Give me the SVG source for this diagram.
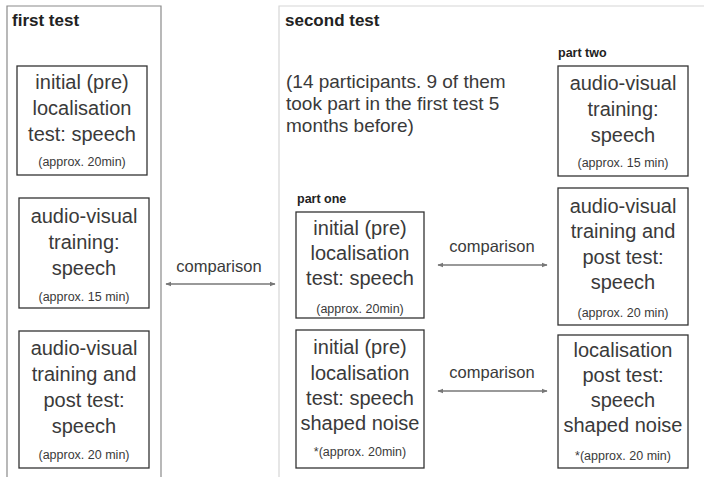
<svg xmlns="http://www.w3.org/2000/svg" width="704" height="477" viewBox="0 0 704 477">
<style>
  text { font-family: "Liberation Sans", Arial, sans-serif; fill: #3a3a3a; }
  .big { font-size: 20px; text-anchor: middle; }
  .small { font-size: 12.5px; text-anchor: middle; }
  .para { font-size: 19px; }
  .title { font-size: 17px; font-weight: bold; fill: #222; }
  .part { font-size: 12.5px; font-weight: bold; fill: #222; }
  .cmp { font-size: 16.5px; text-anchor: middle; }
  .box { fill: #fff; stroke: #333; stroke-width: 1.3; }
  .conn { stroke: #777; stroke-width: 1.3; fill: none; marker-start: url(#ah); marker-end: url(#ah); }
</style>
<defs>
  <marker id="ah" viewBox="0 0 10 10" refX="9" refY="5" markerWidth="6" markerHeight="6" orient="auto-start-reverse" markerUnits="userSpaceOnUse">
    <path d="M0,1 L10,5 L0,9 z" fill="#777"/>
  </marker>
</defs>
<rect width="704" height="477" fill="#fff"/>

<g id="frame-first">
  <path d="M7,480 V6 H161 V480" fill="none" stroke="#8a8a8a" stroke-width="1.2"/>
  <text class="title" x="12" y="26">first test</text>
</g>
<g id="frame-second">
  <path d="M279,480 V6 H706" fill="none" stroke="#d6d6d6" stroke-width="1.2"/>
  <text class="title" x="285" y="26">second test</text>
  <text class="para" x="286" y="88">(14 participants. 9 of them</text>
  <text class="para" x="286" y="110">took part in the first test 5</text>
  <text class="para" x="286" y="132">months before)</text>
  <text class="part" x="558" y="57">part two</text>
  <text class="part" x="297" y="203">part one</text>
</g>

<g id="f1">
  <rect class="box" x="17" y="66" width="130" height="109"/>
  <text class="big" x="82" y="89">initial (pre)</text>
  <text class="big" x="82" y="115">localisation</text>
  <text class="big" x="82" y="141">test: speech</text>
  <text class="small" x="82" y="166">(approx. 20min)</text>
</g>
<g id="f2">
  <rect class="box" x="19" y="198" width="130" height="110"/>
  <text class="big" x="84" y="223">audio-visual</text>
  <text class="big" x="84" y="249">training:</text>
  <text class="big" x="84" y="275">speech</text>
  <text class="small" x="84" y="301">(approx. 15 min)</text>
</g>
<g id="f3">
  <rect class="box" x="19" y="331" width="130" height="137"/>
  <text class="big" x="84" y="355">audio-visual</text>
  <text class="big" x="84" y="381">training and</text>
  <text class="big" x="84" y="407">post test:</text>
  <text class="big" x="84" y="433">speech</text>
  <text class="small" x="84" y="459">(approx. 20 min)</text>
</g>

<g id="s-pre-speech">
  <rect class="box" x="296" y="212" width="128" height="106"/>
  <text class="big" x="360" y="235">initial (pre)</text>
  <text class="big" x="360" y="260">localisation</text>
  <text class="big" x="360" y="285">test: speech</text>
  <text class="small" x="360" y="313">(approx. 20min)</text>
</g>
<g id="s-pre-noise">
  <rect class="box" x="296" y="330" width="128" height="138"/>
  <text class="big" x="360" y="354">initial (pre)</text>
  <text class="big" x="360" y="380">localisation</text>
  <text class="big" x="360" y="405">test: speech</text>
  <text class="big" x="360" y="430">shaped noise</text>
  <text class="small" x="360" y="456">*(approx. 20min)</text>
</g>
<g id="s-av-training">
  <rect class="box" x="558" y="66" width="130" height="110"/>
  <text class="big" x="623" y="90">audio-visual</text>
  <text class="big" x="623" y="116">training:</text>
  <text class="big" x="623" y="142">speech</text>
  <text class="small" x="623" y="167">(approx. 15 min)</text>
</g>
<g id="s-av-post">
  <rect class="box" x="558" y="188" width="130" height="137"/>
  <text class="big" x="623" y="213">audio-visual</text>
  <text class="big" x="623" y="238">training and</text>
  <text class="big" x="623" y="264">post test:</text>
  <text class="big" x="623" y="289">speech</text>
  <text class="small" x="623" y="317">(approx. 20 min)</text>
</g>
<g id="s-loc-post">
  <rect class="box" x="558" y="335" width="130" height="133"/>
  <text class="big" x="623" y="357">localisation</text>
  <text class="big" x="623" y="382">post test:</text>
  <text class="big" x="623" y="407">speech</text>
  <text class="big" x="623" y="432">shaped noise</text>
  <text class="small" x="623" y="460">*(approx. 20 min)</text>
</g>

<g id="connectors">
  <line class="conn" x1="166" y1="284" x2="275" y2="284"/>
  <text class="cmp" x="219" y="272">comparison</text>
  <line class="conn" x1="438" y1="265" x2="547" y2="265"/>
  <text class="cmp" x="492" y="252">comparison</text>
  <line class="conn" x1="438" y1="391" x2="547" y2="391"/>
  <text class="cmp" x="492" y="378">comparison</text>
</g>
</svg>
